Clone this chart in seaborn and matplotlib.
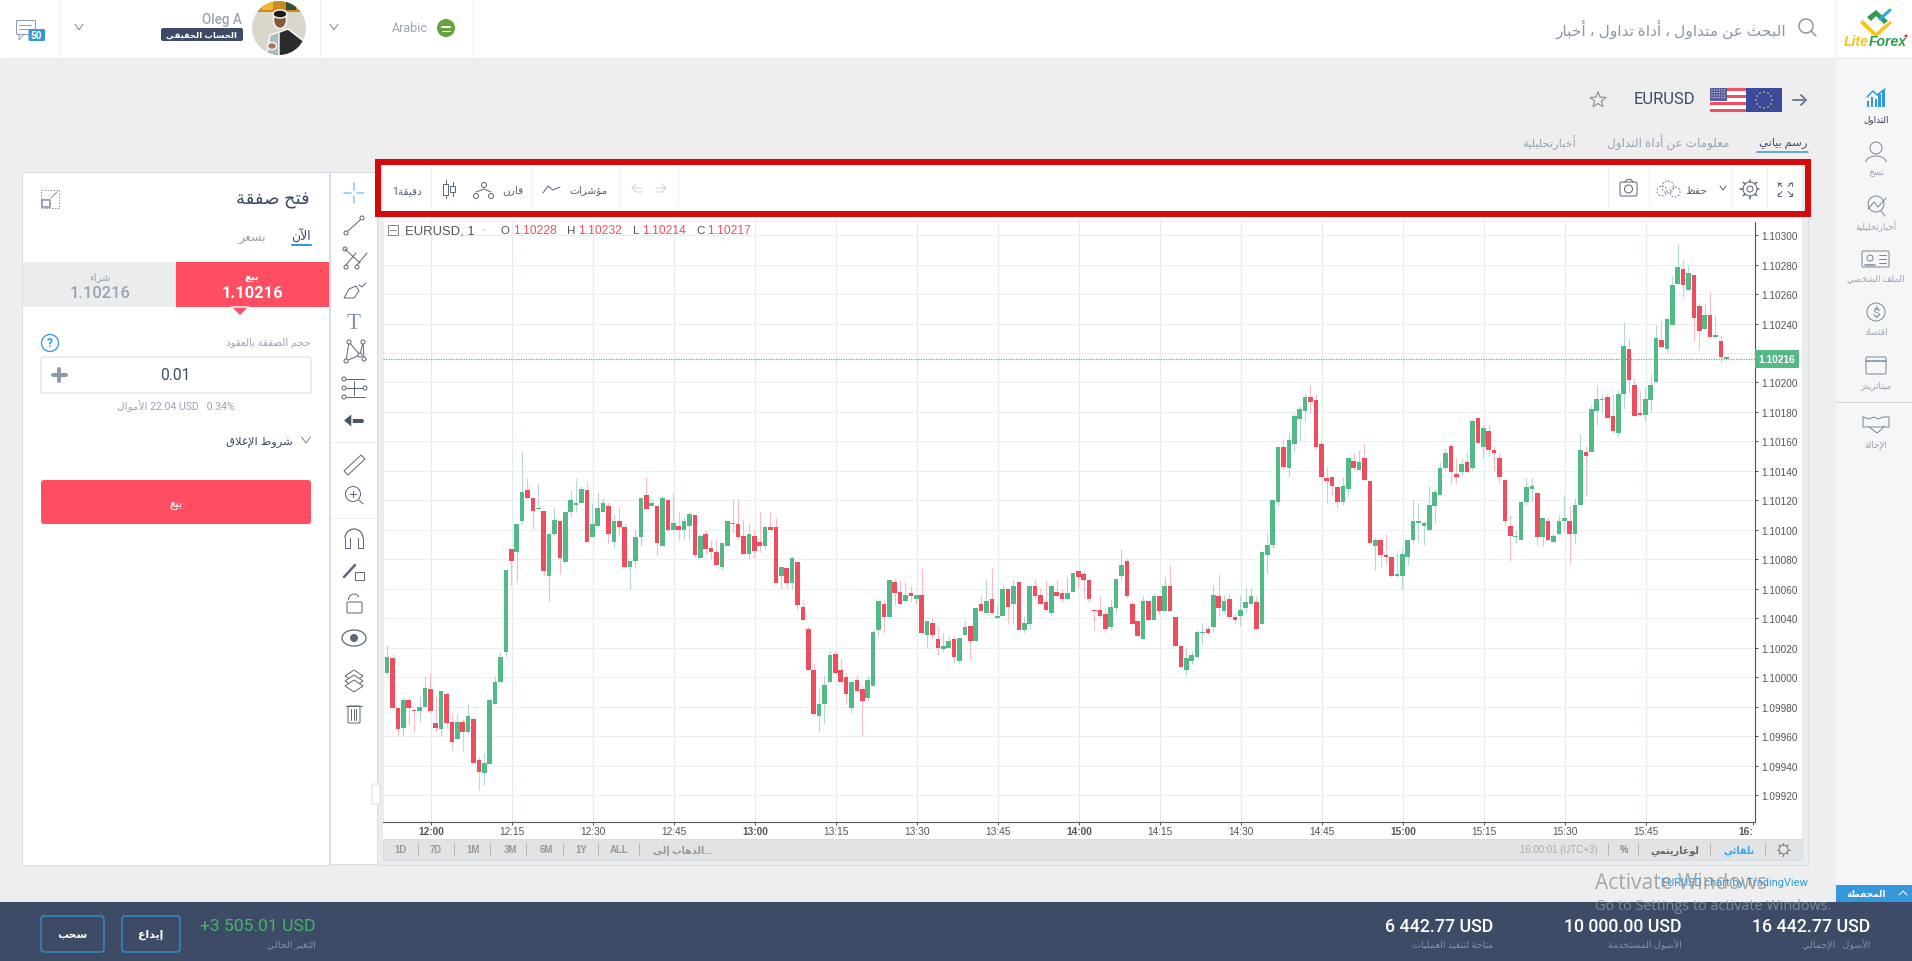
import re
import numpy as np
import pandas as pd
import seaborn as sns
from matplotlib import pyplot as plt
from matplotlib.patches import Rectangle, Circle, Ellipse, FancyBboxPatch, Polygon, Arc

# prices of the 1 minute candles, in 1e-5 above 1.0 (first candle is 11:52)
open_pts = [10003, 10013, 9979, 9966, 9985, 9978, 9977, 9980, 9992, 9969,
            9965, 9989, 9970, 9958, 9970, 9963, 9972, 9944, 9935, 9941,
            9982, 9997, 10017, 10087, 10085, 10106, 10127, 10122, 10114, 10113,
            10069, 10097, 10106, 10078, 10112, 10117, 10118, 10127, 10095, 10103,
            10112, 10116, 10092, 10106, 10102, 10075, 10079, 10095, 10124, 10116,
            10116, 10089, 10120, 10100, 10103, 10100, 10103, 10110, 10081, 10097,
            10088, 10085, 10075, 10089, 10104, 10104, 10096, 10084, 10096, 10092,
            10089, 10102, 10102, 10069, 10074, 10064, 10078, 10048, 10033, 10005,
            9974, 9982, 9997, 10016, 10005, 10000, 9979, 9998, 9992, 9986,
            9994, 10032, 10050, 10041, 10065, 10058, 10052, 10057, 10053, 10056,
            10029, 10037, 10026, 10019, 10020, 10026, 10011, 10029, 10035, 10025,
            10050, 10044, 10053, 10040, 10042, 10060, 10050, 10065, 10032, 10036,
            10062, 10056, 10051, 10044, 10058, 10057, 10053, 10058, 10072, 10070,
            10066, 10046, 10046, 10043, 10034, 10047, 10069, 10079, 10050, 10038,
            10026, 10052, 10039, 10055, 10045, 10062, 10041, 10021, 10005, 10011,
            10014, 10030, 10033, 10034, 10055, 10045, 10053, 10041, 10042, 10047,
            10050, 10051, 10036, 10083, 10090, 10119, 10156, 10142, 10158, 10175,
            10181, 10190, 10188, 10158, 10135, 10136, 10129, 10119, 10128, 10147,
            10141, 10149, 10133, 10089, 10093, 10083, 10082, 10069, 10069, 10082,
            10093, 10105, 10103, 10100, 10116, 10124, 10142, 10157, 10138, 10139,
            10146, 10142, 10176, 10156, 10167, 10154, 10149, 10134, 10103, 10095,
            10093, 10119, 10128, 10125, 10095, 10106, 10092, 10097, 10106, 10106,
            10097, 10117, 10153, 10153, 10181, 10188, 10190, 10177, 10166, 10192,
            10223, 10198, 10179, 10178, 10188, 10200, 10229, 10223, 10239, 10267,
            10277, 10263, 10273, 10252, 10236, 10246, 10231, 10228, 10216]
high_pts = [10022, 10016, 9979, 9986, 9987, 9978, 9988, 10001, 10003, 9988,
            9991, 9990, 9976, 9975, 9972, 9983, 9973, 9947, 9949, 9986,
            10001, 10017, 10073, 10087, 10104, 10153, 10135, 10122, 10132, 10113,
            10097, 10115, 10106, 10112, 10127, 10135, 10130, 10133, 10118, 10126,
            10122, 10119, 10111, 10116, 10105, 10079, 10100, 10122, 10136, 10121,
            10116, 10124, 10122, 10125, 10112, 10109, 10112, 10110, 10097, 10100,
            10093, 10093, 10091, 10106, 10121, 10121, 10107, 10104, 10101, 10112,
            10103, 10112, 10108, 10075, 10075, 10082, 10078, 10053, 10035, 10010,
            9993, 10002, 10018, 10018, 10013, 10003, 9997, 10002, 9994, 10001,
            10032, 10052, 10053, 10066, 10067, 10066, 10065, 10062, 10056, 10075,
            10038, 10040, 10035, 10030, 10028, 10028, 10027, 10038, 10035, 10047,
            10055, 10067, 10074, 10049, 10063, 10060, 10066, 10065, 10042, 10062,
            10067, 10061, 10066, 10062, 10066, 10060, 10068, 10071, 10072, 10072,
            10066, 10046, 10055, 10047, 10053, 10067, 10087, 10081, 10052, 10038,
            10055, 10052, 10057, 10055, 10068, 10076, 10041, 10021, 10020, 10018,
            10032, 10037, 10035, 10063, 10070, 10056, 10057, 10044, 10056, 10061,
            10061, 10055, 10085, 10098, 10120, 10156, 10162, 10166, 10179, 10184,
            10193, 10198, 10192, 10161, 10143, 10136, 10129, 10136, 10149, 10152,
            10154, 10159, 10133, 10095, 10094, 10097, 10082, 10085, 10087, 10093,
            10120, 10118, 10106, 10130, 10128, 10146, 10155, 10158, 10149, 10149,
            10152, 10175, 10176, 10171, 10171, 10157, 10152, 10134, 10110, 10100,
            10119, 10135, 10136, 10125, 10108, 10108, 10098, 10110, 10124, 10116,
            10122, 10165, 10157, 10185, 10198, 10192, 10192, 10192, 10195, 10241,
            10230, 10203, 10194, 10196, 10206, 10239, 10243, 10244, 10272, 10294,
            10283, 10280, 10273, 10254, 10253, 10262, 10246, 10232, 10217]
low_pts = [10002, 9978, 9960, 9960, 9968, 9963, 9970, 9980, 9976, 9964,
           9960, 9966, 9951, 9958, 9950, 9962, 9942, 9924, 9927, 9941,
           9982, 9997, 10014, 10063, 10065, 10104, 10121, 10101, 10114, 10069,
           10052, 10096, 10070, 10078, 10109, 10112, 10118, 10092, 10095, 10103,
           10112, 10091, 10088, 10096, 10075, 10060, 10074, 10089, 10114, 10116,
           10083, 10089, 10100, 10100, 10093, 10094, 10093, 10082, 10081, 10084,
           10080, 10076, 10073, 10089, 10098, 10094, 10084, 10080, 10081, 10086,
           10087, 10100, 10064, 10060, 10060, 10060, 10046, 10039, 10005, 9975,
           9963, 9969, 9997, 10003, 9997, 9982, 9976, 9991, 9961, 9984,
           9994, 10029, 10031, 10041, 10049, 10050, 10052, 10051, 10050, 10030,
           10020, 10026, 10015, 10017, 10020, 10010, 10009, 10029, 10012, 10025,
           10045, 10044, 10044, 10040, 10042, 10037, 10036, 10032, 10030, 10033,
           10054, 10050, 10045, 10042, 10055, 10051, 10053, 10058, 10061, 10054,
           10051, 10032, 10041, 10031, 10032, 10044, 10066, 10054, 10036, 10028,
           10026, 10039, 10039, 10043, 10045, 10045, 10021, 10007, 10002, 10009,
           10014, 10022, 10029, 10031, 10042, 10044, 10040, 10036, 10035, 10044,
           10050, 10033, 10036, 10071, 10088, 10116, 10142, 10136, 10153, 10161,
           10173, 10179, 10154, 10135, 10118, 10123, 10115, 10117, 10123, 10141,
           10141, 10134, 10091, 10073, 10075, 10077, 10068, 10068, 10060, 10076,
           10091, 10092, 10090, 10100, 10105, 10124, 10141, 10131, 10131, 10137,
           10139, 10141, 10159, 10149, 10150, 10140, 10132, 10103, 10079, 10091,
           10093, 10117, 10119, 10090, 10089, 10093, 10091, 10097, 10099, 10076,
           10091, 10117, 10123, 10153, 10171, 10179, 10176, 10166, 10163, 10182,
           10193, 10177, 10177, 10174, 10179, 10200, 10224, 10221, 10239, 10267,
           10257, 10263, 10228, 10222, 10236, 10231, 10230, 10214, 10216]
close_pts = [10014, 9979, 9965, 9985, 9979, 9977, 9980, 9993, 9977, 9966,
             9991, 9969, 9956, 9970, 9963, 9974, 9942, 9936, 9942, 9985,
             9997, 10014, 10073, 10079, 10104, 10126, 10122, 10113, 10115, 10072,
             10097, 10107, 10081, 10112, 10120, 10118, 10128, 10092, 10104, 10115,
             10118, 10097, 10106, 10102, 10075, 10079, 10095, 10122, 10114, 10118,
             10091, 10122, 10100, 10105, 10100, 10106, 10111, 10083, 10096, 10087,
             10085, 10076, 10091, 10106, 10105, 10095, 10084, 10097, 10086, 10089,
             10102, 10100, 10064, 10075, 10064, 10081, 10049, 10039, 10005, 9975,
             9982, 9995, 10015, 10003, 9997, 9989, 9997, 9991, 9984, 9998,
             10031, 10052, 10041, 10066, 10057, 10050, 10056, 10055, 10056, 10030,
             10038, 10029, 10020, 10021, 10025, 10014, 10027, 10034, 10025, 10047,
             10045, 10052, 10044, 10042, 10060, 10048, 10062, 10032, 10037, 10062,
             10055, 10050, 10046, 10062, 10055, 10053, 10057, 10071, 10068, 10066,
             10053, 10045, 10042, 10033, 10048, 10067, 10076, 10055, 10036, 10028,
             10052, 10039, 10055, 10045, 10062, 10045, 10021, 10007, 10013, 10015,
             10031, 10031, 10030, 10056, 10047, 10052, 10041, 10039, 10046, 10051,
             10055, 10033, 10085, 10090, 10120, 10156, 10143, 10161, 10177, 10182,
             10190, 10187, 10156, 10136, 10133, 10130, 10119, 10130, 10149, 10142,
             10146, 10134, 10091, 10093, 10083, 10082, 10069, 10070, 10084, 10093,
             10106, 10106, 10105, 10117, 10126, 10142, 10152, 10139, 10136, 10145,
             10139, 10174, 10159, 10169, 10154, 10152, 10136, 10106, 10096, 10096,
             10119, 10129, 10130, 10095, 10108, 10093, 10096, 10106, 10108, 10097,
             10117, 10154, 10150, 10182, 10189, 10189, 10176, 10167, 10192, 10225,
             10202, 10177, 10178, 10189, 10198, 10230, 10224, 10243, 10266, 10278,
             10266, 10274, 10244, 10235, 10246, 10231, 10232, 10217, 10216]

time_labels = ['12:00', '12:15', '12:30', '12:45', '13:00', '13:15', '13:30', '13:45', '14:00',
               '14:15', '14:30', '14:45', '15:00', '15:15', '15:30', '15:45']
price_ticks = [1.09920 + 0.0002 * k for k in range(20)]
last_price = 1.10216

range_labels = ['1D', '7D', '1M', '3M', '6M', '1Y', 'ALL']
legend_values = ['1.10228', '1.10232', '1.10214', '1.10217']
tabs = ['رسم بياني', 'معلومات عن أداة التداول', 'أخبارتحليلية']
nav_labels = ['التداول', 'نسخ', 'أخبارتحليلية', 'الملف الشخصي', 'اقتصاد', 'ميتاتريدر', 'الإحالة']
balances = ['16 442.77 USD', '10 000.00 USD', '6 442.77 USD']
balance_labels = ['الأصول . الإجمالي', 'الأصول المستخدمة', 'متاحة لتنفيذ العمليات']

GREEN = '#53b987'
RED = '#ee4d5f'
NAVY = '#3d4b67'
GREY = '#9aa3b2'
ICON = '#7d8798'
TOOL = '#5f6875'
BLUE = '#3498db'


# matplotlib does no arabic shaping, so map to presentation forms and flip
_forms = {}
_code = 0xFE8D
for _ch, _n in [('ا', 2), ('ب', 4), ('ة', 2), ('ت', 4), ('ث', 4), ('ج', 4), ('ح', 4), ('خ', 4), ('د', 2),
                ('ذ', 2), ('ر', 2), ('ز', 2), ('س', 4), ('ش', 4), ('ص', 4), ('ض', 4), ('ط', 4), ('ظ', 4),
                ('ع', 4), ('غ', 4), ('ف', 4), ('ق', 4), ('ك', 4), ('ل', 4), ('م', 4), ('ن', 4), ('ه', 4),
                ('و', 2), ('ى', 2), ('ي', 4)]:
    _forms[_ch] = [chr(_code + k) for k in range(_n)]
    _code += _n
_forms['آ'] = ['\uFE81', '\uFE82']
_forms['أ'] = ['\uFE83', '\uFE84']
_forms['ؤ'] = ['\uFE85', '\uFE86']
_forms['إ'] = ['\uFE87', '\uFE88']
_forms['ئ'] = ['\uFE89', '\uFE8A', '\uFE8B', '\uFE8C']
_forms['ء'] = ['\uFE80']
_lam_alef = {'ا': ('\uFEFB', '\uFEFC'), 'أ': ('\uFEF7', '\uFEF8'), 'إ': ('\uFEF9', '\uFEFA'), 'آ': ('\uFEF5', '\uFEF6')}


def ar(text):
    out = []
    i = 0
    while i < len(text):
        ch = text[i]
        if ch not in _forms:
            out.append(ch)
            i += 1
            continue
        prev = text[i - 1] if i > 0 else ' '
        joins_prev = prev in _forms and len(_forms[prev]) == 4
        nxt = text[i + 1] if i + 1 < len(text) else ' '
        if ch == 'ل' and nxt in _lam_alef:
            out.append(_lam_alef[nxt][1 if joins_prev else 0])
            i += 2
            continue
        joins_next = len(_forms[ch]) == 4 and nxt in _forms
        if joins_prev and joins_next:
            form = 3
        elif joins_next:
            form = 2
        elif joins_prev:
            form = 1
        else:
            form = 0
        out.append(_forms[ch][form])
        i += 1
    flipped = ''.join(out)[::-1]
    return re.sub(r'[0-9A-Za-z][0-9A-Za-z. ]*[0-9A-Za-z]|[0-9A-Za-z]', lambda m: m.group(0)[::-1], flipped)


sns.set_theme(style='white')
plt.rcParams['font.family'] = ['Roboto', 'DejaVu Sans']

fig = plt.figure(figsize=(19.12, 9.62), dpi=100, facecolor='#eeeeee')
ui = fig.add_axes([0, 0, 1, 1], zorder=0)
ov = fig.add_axes([0, 0, 1, 1], zorder=5)
for a in (ui, ov):
    a.set_xlim(0, 1912)
    a.set_ylim(962, 0)
    a.axis('off')
ov.patch.set_visible(False)


def box(x0, y0, x1, y1, fc='none', ec='none', lw=1.0, r=0, a=ui, z=None):
    if z is None:
        z = 3 if fc == 'none' else 1
    if r:
        p = FancyBboxPatch((x0, y0), x1 - x0, y1 - y0, boxstyle='round,pad=0,rounding_size=%s' % r,
                           fc=fc, ec=ec, lw=lw * 0.72, zorder=z)
    else:
        p = Rectangle((x0, y0), x1 - x0, y1 - y0, fc=fc, ec=ec, lw=lw * 0.72, zorder=z)
    a.add_patch(p)
    return p


def line(xs, ys, c=ICON, lw=1.0, a=ui, z=3):
    a.plot(xs, ys, color=c, lw=lw * 0.72, solid_capstyle='round', zorder=z)


def circ(x, y, r, fc='none', ec=ICON, lw=1.0, a=ui, z=3):
    p = Circle((x, y), r, fc=fc, ec=ec, lw=lw * 0.72, zorder=z)
    a.add_patch(p)
    return p


def txt(x, y, s, px, c=GREY, ha='center', w='normal', a=ui, family=None, alpha=None, style='normal'):
    a.text(x, y, s, fontsize=px * 0.72, color=c, ha=ha, va='center', fontweight=w, zorder=6,
           family=family or ['Roboto', 'DejaVu Sans'], alpha=alpha, fontstyle=style)


def chevron(x, y, c=ICON, s=4):
    line([x - s, x, x + s], [y - s * 0.7, y + s * 0.7, y - s * 0.7], c)


LIB = ['Liberation Sans', 'DejaVu Sans']

# page blocks
box(0, 0, 1912, 59, fc='white')
box(1836, 59, 1912, 903, fc='#f5f6f7')
line([0, 1912], [59, 59], '#e6e8eb')
for x in (59, 320, 473, 1836):
    line([x, x], [0, 59], '#eceef0')
box(0, 903, 1912, 962, fc=NAVY, z=2)
box(1836, 886, 1912, 903, fc=BLUE, z=2)
txt(1866, 894.5, ar('المحفظة'), 9, 'white', w='bold')
line([1899, 1903, 1907], [896, 892, 896], 'white')

# header left
box(16, 21, 35, 35, fc='white', ec='#8fa0b5', z=3)
line([19, 19, 24], [35, 41, 35], '#8fa0b5')
line([19, 31], [26, 26], '#8fa0b5')
line([19, 31], [30, 30], '#8fa0b5')
box(28.5, 30, 45, 42, fc=BLUE, r=1.5, z=4)
txt(36.5, 36, '50', 10, 'white', w='bold')
chevron(79, 28)
txt(242, 20, 'Oleg A', 13.5, GREY, ha='right', w='medium')
box(161, 29, 243, 42, fc=NAVY, r=2)
txt(202, 35.5, ar('الحساب الحقيقي'), 8.5, 'white', w='bold')
avatar = circ(279, 29, 27, fc='#d9d6cb', ec='none')
for x0, y0, x1, y1, col in [(250, 0, 310, 13, '#c98a22'), (262, 2, 273, 11, '#f2b632'), (286, 2, 296, 11, '#33503c')]:
    box(x0, y0, x1, y1, fc=col, z=3).set_clip_path(avatar)
suit = Polygon([[274, 56], [277, 34], [288, 30], [306, 44], [306, 60], [274, 60]], fc='#2b2b2d', zorder=3)
ui.add_patch(suit)
suit.set_clip_path(avatar)
shirt = Polygon([[266, 58], [270, 36], [279, 33], [279, 58]], fc='#a9bcc2', zorder=3)
ui.add_patch(shirt)
shirt.set_clip_path(avatar)
ui.add_patch(Ellipse((280, 21), 13, 17, fc='#8a5a3c', zorder=4))
ui.add_patch(Ellipse((280, 15), 14, 8, fc='#1e1a18', zorder=4))
ui.add_patch(Ellipse((272, 47), 9, 7, fc='#a8745a', zorder=4))
chevron(334, 28)
txt(428, 29, 'Arabic', 12.5, GREY, ha='right')
circ(446, 29, 9, fc='#64a33e', ec='none')
line([442, 450], [28, 28], 'white', 2)
line([442, 450], [32, 32], 'white', 1)

# search and logo
txt(1786, 29, ar('البحث عن متداول ، أداة تداول ، أخبار'), 15.4, '#8f96a3', ha='right')
circ(1806, 27, 7, ec='#8f96a3', lw=1.5)
line([1811, 1816], [32, 37], '#8f96a3', 1.5)
ui.add_patch(Polygon([[1863, 20], [1876, 33], [1889, 20], [1893, 24], [1876, 40], [1859, 24]], fc='#f5c518', zorder=3))
ui.add_patch(Polygon([[1866, 18], [1876, 10], [1889, 22], [1884, 26], [1876, 18], [1871, 23]], fc='#2e9e4f', zorder=3))
line([1880, 1890], [20, 11], '#29a9e0', 3)
txt(1844, 42, 'Lite', 14, '#f5c518', ha='left', w='bold', family=LIB, style='italic')
txt(1869, 42, 'Forex', 14, '#2e9e4f', ha='left', w='bold', family=LIB, style='italic')
circ(1906, 37, 1.5, fc='#e0262b', ec='none')

# instrument row
txt(1695, 100, 'EURUSD', 16.5, NAVY, ha='right')
for k in range(7):
    box(1710, 89 + k * 24 / 7, 1746, 89 + (k + 1) * 24 / 7, fc='#f0505f' if k % 2 == 0 else 'white', z=2)
box(1710, 89, 1727, 102, fc='#5a5f9c', z=3)
for px_ in np.arange(1712, 1727, 2.5):
    for py_ in np.arange(91, 101, 2.5):
        circ(px_, py_, 0.5, fc='white', ec='none', z=4)
box(1746, 89, 1782, 113, fc='#3d4a9c', z=2)
for ang in np.arange(0, 360, 30):
    circ(1764 + 8 * np.cos(np.radians(ang)), 101 + 8 * np.sin(np.radians(ang)), 0.8, fc='#f0d040', ec='none')
line([1793, 1806], [101, 101], '#6d8296', 2)
line([1801, 1806, 1801], [96, 101, 106], '#6d8296', 2)
star = [[1598 + (8.5 if k % 2 == 0 else 3.5) * np.sin(k * np.pi / 5), 101 - (8.5 if k % 2 == 0 else 3.5) * np.cos(k * np.pi / 5)]
        for k in range(10)]
ui.add_patch(Polygon(star, fc='none', ec='#8e98a8', lw=0.9, zorder=3))
txt(1808, 143, ar(tabs[0]), 11.5, NAVY, ha='right')
line([1757, 1808], [153, 153], '#3f8fc4', 1.5)
txt(1729, 143, ar(tabs[1]), 12, GREY, ha='right')
txt(1576, 143, ar(tabs[2]), 11.5, GREY, ha='right')

# toolbar strip and chart frame
box(377, 172, 1808, 866, fc='#e9edf0', ec='#d8dce3', z=1)
box(383, 166, 1802, 207, fc='white', z=2)
for x in (431, 532, 620, 678, 1608, 1649, 1732, 1767, 1802):
    line([x, x], [168, 207], '#eceef0', 1)
txt(407, 191, ar('دقيقة1'), 10.5, '#555f6e')
line([446, 446], [181, 199], TOOL)
box(443.5, 185, 448.5, 196, ec=TOOL, fc='white', z=4)
line([453, 453], [183, 197], TOOL)
box(450.5, 187, 455.5, 193, ec=TOOL, fc='white', z=4)
for cx, cy in [(476, 197), (484, 186), (491, 197)]:
    circ(cx, cy, 2.5, ec=TOOL)
line([476, 484, 491], [193, 190, 193], TOOL)
txt(513, 190, ar('قارن'), 10.5, '#555f6e')
line([543, 548, 553, 560], [194, 187, 191, 188], TOOL)
txt(589, 190, ar('مؤشرات'), 10.5, '#555f6e')
line([642, 632, 636], [189, 189, 185], '#d0d4da')
line([632, 636, 642], [189, 193, 193], '#d0d4da')
line([656, 666, 662], [189, 189, 185], '#d0d4da')
line([666, 662, 656], [189, 193, 193], '#d0d4da')
box(1620, 183, 1637, 197, ec=TOOL, r=2)
circ(1628.5, 190, 4, ec=TOOL)
line([1625, 1627, 1631, 1633], [183, 180.5, 180.5, 183], TOOL)
for cx, cy, rr in [(1662, 192, 5), (1668, 188, 6), (1675, 193, 5)]:
    p_ = circ(cx, cy, rr, ec='#7d8798')
    p_.set_linestyle((0, (2, 1.5)))
txt(1696, 191, ar('حفظ'), 10.5, '#555f6e')
chevron(1723, 189, TOOL, 3)
circ(1750, 190, 7, ec=TOOL)
circ(1750, 190, 3, ec=TOOL)
for ang in np.arange(0, 360, 45):
    ca, sa = np.cos(np.radians(ang)), np.sin(np.radians(ang))
    line([1750 + 7 * ca, 1750 + 9.5 * ca], [190 + 7 * sa, 190 + 9.5 * sa], TOOL, 1.5)
for dx, dy in [(-1, -1), (1, -1), (-1, 1), (1, 1)]:
    cx, cy = 1785 + dx * 3, 190 + dy * 2.5
    line([cx, cx + dx * 4], [cy, cy + dy * 4], TOOL)
    line([cx + dx * 4, cx + dx * 1], [cy + dy * 4, cy + dy * 4], TOOL)
    line([cx + dx * 4, cx + dx * 4], [cy + dy * 4, cy + dy * 1], TOOL)

# red highlight
box(378.5, 163, 1808, 215, ec='#d60a0a', lw=6, a=ov)

# order panel
box(22.5, 172.5, 329.5, 866, fc='white', ec='#d8dce3', z=2)
txt(310, 200, ar('فتح صفقة'), 18, NAVY, ha='right')
p_ = box(41, 191, 59, 209, ec='#8b94a3')
p_.set_linestyle((0, (1.5, 1.5)))
box(42, 201, 50, 208, ec='#8b94a3', lw=1.6)
line([51, 57], [199, 193], '#8b94a3')
txt(311, 236, ar('الآن'), 12.5, NAVY, ha='right')
line([292, 311], [246, 246], BLUE, 2)
txt(252, 237, ar('بسعر'), 12.5, GREY)
box(23, 263, 176, 308, fc='#ebecee', z=3)
box(176, 263, 329, 308, fc='#ff4d61', z=3)
ui.add_patch(Polygon([[231, 308], [249, 308], [240, 317]], fc='#ff4d61', zorder=3))
txt(100, 277, ar('شراء'), 10, GREY)
txt(100, 294, '1.10216', 16.5, GREY, w='medium')
txt(252, 277, ar('بيع'), 10, 'white', w='bold')
txt(252, 294, '1.10216', 16.5, 'white', w='bold')
txt(311, 343, ar('حجم الصفقة بالعقود'), 10.3, GREY, ha='right')
circ(50, 344, 8.5, ec=BLUE, lw=1.3)
txt(50, 344, '?', 12, BLUE, w='bold')
box(41, 358, 311, 394, fc='white', ec='#d8dce3', r=2, z=3)
line([53, 66], [376, 376], '#8e9aab', 4)
line([59.5, 59.5], [370, 382], '#8e9aab', 4)
txt(175, 375.5, '0.01', 15.5, NAVY)
txt(176, 406, ar('الأموال') + ' 22.04 USD   0.34%', 10.5, GREY)
chevron(306, 441, ICON, 4.5)
txt(293, 442, ar('شروط الإغلاق'), 11.5, NAVY, ha='right')
box(41, 481, 311, 525, fc='#ff4d61', r=3, z=3)
txt(176, 505, ar('بيع'), 12, 'white')

# drawing tools
box(330, 173, 377, 865, fc='white', ec='#d8dce3', z=2)
X = 354
line([X - 10, X - 3], [194, 194], '#82c6f0', 1.5)
line([X + 3, X + 10], [194, 194], '#82c6f0', 1.5)
line([X, X], [184, 191], '#82c6f0', 1.5)
line([X, X], [197, 204], '#82c6f0', 1.5)
line([X - 6, X + 6], [232, 221], TOOL)
circ(X - 8, 234, 2, ec=TOOL)
circ(X + 8, 219, 2, ec=TOOL)
for dx_ in (-8, 3):
    line([X + dx_, X + dx_ + 10], [266, 254], TOOL)
line([X - 9, X + 6], [250, 264], TOOL)
circ(X - 9, 250, 2, ec=TOOL)
circ(X - 8, 268, 2, ec=TOOL)
circ(X + 3, 268, 2, ec=TOOL)
ui.add_patch(Polygon([[X - 10, 299], [X - 5, 290], [X + 2, 287], [X + 5, 292], [X, 299]], fc='none', ec=TOOL, lw=0.72, zorder=3))
line([X + 5, X + 8, X + 12], [286, 288, 284], TOOL)
txt(X, 324, 'T', 23, '#8a93a0', family=['Liberation Serif'])
for a_, b_ in [((-8, 362), (-5, 343)), ((-5, 343), (6, 356)), ((6, 356), (9, 343)), ((9, 343), (10, 360)), ((-8, 362), (6, 356))]:
    line([X + a_[0], X + b_[0]], [a_[1], b_[1]], TOOL)
for cx, cy in [(-8, 362), (-5, 343), (6, 356), (9, 343), (10, 360)]:
    circ(X + cx, cy, 2, fc='white', ec=TOOL, z=4)
for y_ in (380, 389, 398):
    line([X - 8, X + 11], [y_, y_], TOOL)
    circ(X - 10, y_, 2, fc='white', ec=TOOL, z=4)
line([X, X], [382, 396], TOOL)
circ(X + 11, 389, 2, fc='white', ec=TOOL, z=4)
line([X - 6, X + 8], [421.5, 421.5], '#4a5568', 4)
ui.add_patch(Polygon([[X - 11, 421.5], [X - 2, 414], [X - 2, 429]], fc='#4a5568', zorder=3))
line([331, 376], [443, 443], '#eceef0')
line([331, 376], [519, 519], '#eceef0')
ui.add_patch(Polygon([[X - 10, 472], [X + 7, 456], [X + 11, 460], [X - 6, 476]], fc='none', ec=TOOL, lw=0.72, zorder=3))
circ(X - 1, 495, 7.5, ec=TOOL)
line([X - 4, X + 2], [495, 495], TOOL)
line([X - 1, X - 1], [492, 498], TOOL)
line([X + 5, X + 9], [501, 505], TOOL)
ui.add_patch(Arc((X, 539), 18, 18, theta1=180, theta2=360, ec=TOOL, lw=0.9, zorder=3))
line([X - 9, X - 9, X - 4, X - 4], [539, 549, 549, 539], TOOL)
line([X + 9, X + 9, X + 4, X + 4], [539, 549, 549, 539], TOOL)
line([X - 10, X + 1], [578, 566], TOOL, 2.5)
box(X + 1, 573, X + 10, 581, ec=TOOL)
box(X - 7, 603, X + 8, 614, ec=TOOL, r=1)
ui.add_patch(Arc((X, 601), 11, 12, theta1=180, theta2=330, ec=TOOL, lw=0.72, zorder=3))
ui.add_patch(Arc((X, 639), 24, 16, theta1=0, theta2=360, ec=TOOL, lw=0.9, zorder=3))
circ(X, 639, 3.5, fc=TOOL, ec=TOOL)
for y_ in (677, 682, 687):
    ui.add_patch(Polygon([[X - 9, y_], [X, y_ - 6], [X + 9, y_], [X, y_ + 6]], fc='white', ec=TOOL, lw=0.72, zorder=3))
box(X - 6, 707, X + 6, 724, ec=TOOL, r=1)
line([X - 8, X + 8], [707, 707], TOOL)
for dx_ in (-2.5, 0, 2.5):
    line([X + dx_, X + dx_], [710, 721], TOOL)
box(372, 785, 380, 805, fc='white', ec='#d8dce3', r=1, z=3)

# side navigation
nav_y = [120, 173, 226, 279, 333, 386, 445]
NX = 1876
for lab, y_, col in zip(nav_labels, nav_y, ['#333a47'] + [GREY] * 6):
    txt(NX, y_, ar(lab), 8.8, col)
for k, bh in enumerate([6, 10, 8, 13, 17]):
    box(NX - 9 + k * 3.8, 108 - bh, NX - 6.5 + k * 3.8, 108, fc=BLUE, z=3)
line([NX - 9, NX - 3, NX + 1, NX + 9], [98, 92, 96, 90], BLUE, 1.5)
circ(NX, 149, 6)
ui.add_patch(Arc((NX, 163), 20, 12, theta1=180, theta2=360, ec=ICON, lw=0.72, zorder=3))
circ(NX, 205, 8)
line([NX - 8, NX - 2, NX + 2, NX + 10], [210, 203, 208, 199], ICON)
line([NX + 5, NX + 9], [212, 217], ICON)
box(NX - 14, 252, NX + 13, 268, ec=ICON, r=1)
circ(NX - 6, 259, 3)
line([NX - 11, NX - 1], [266, 266], ICON, 1.5)
for y_ in (256, 260, 264):
    line([NX + 3, NX + 10], [y_, y_], ICON)
circ(NX, 313, 9)
txt(NX, 313, '$', 13, ICON)
box(NX - 10, 358, NX + 10, 375, ec=ICON, r=1)
line([NX - 10, NX + 10], [362, 362], ICON, 1.5)
line([1836, 1912], [403, 403], '#cfd2d6')
line([NX - 13, NX - 7, NX - 2, NX + 2, NX + 7, NX + 13, NX + 13, NX - 13, NX - 13], [418, 420, 418, 420, 418, 418, 428, 428, 418], ICON)
line([NX - 7, NX + 1, NX + 5, NX + 8], [428, 434, 431, 427], ICON)

# chart
pts = pd.DataFrame({'open': open_pts, 'high': high_pts, 'low': low_pts, 'close': close_pts})
candles = 1 + pts * 1e-5
candles['minute'] = np.arange(len(candles)) - 8
candles['bottom'] = candles[['open', 'close']].min(axis=1)
candles['size'] = (candles['close'] - candles['open']).abs().clip(lower=1e-5)
up = candles[candles['close'] >= candles['open']]
down = candles[candles['close'] < candles['open']]

ax = fig.add_axes([383 / 1912, 1 - 823.3 / 962, (1755.4 - 383) / 1912, (823.3 - 222) / 962], zorder=1)
ax.set_facecolor('white')
ax.vlines(up['minute'], up['low'], up['high'], color='#b5d7d8', lw=0.8, zorder=2)
ax.vlines(down['minute'], down['low'], down['high'], color='#f9bdc6', lw=0.8, zorder=2)
sns.barplot(data=up, x='minute', y='size', bottom=up['bottom'].values, native_scale=True, color=GREEN,
            width=0.85, errorbar=None, saturation=1, linewidth=0, zorder=3, ax=ax)
sns.barplot(data=down, x='minute', y='size', bottom=down['bottom'].values, native_scale=True, color=RED,
            width=0.85, errorbar=None, saturation=1, linewidth=0, zorder=3, ax=ax)
ax.set_xlabel('')
ax.set_ylabel('')

# candles sit 1px left of the time grid in the reference
grid_shift = 0.2
ax.set_xlim(-8.76, 245.4)
ax.set_ylim(1.099018, 1.103095)
time_ticks = [m * 15 + grid_shift for m in range(len(time_labels))]
ax.set_xticks(time_ticks + [245.0])
ax.set_xticklabels(time_labels + ['16:'])
ax.yaxis.tick_right()
ax.set_yticks(price_ticks)
ax.set_yticklabels(['%.5f' % p for p in price_ticks])
ax.tick_params(axis='x', length=2.2, width=0.72, color='#555555', labelsize=7.3, labelcolor='#555555', pad=0.5, bottom=True)
ax.tick_params(axis='y', length=2.2, width=0.72, color='#555555', labelsize=7.2, labelcolor='#555555', pad=2, right=True)
for lab in ax.get_xticklabels() + ax.get_yticklabels():
    lab.set_family(LIB)
for lab in ax.get_xticklabels():
    if lab.get_text().endswith(':00') or lab.get_text() == '16:':
        lab.set_fontweight('bold')
ax.get_xticklabels()[-1].set_ha('right')
ax.set_axisbelow(True)
ax.grid(True, axis='y', color='#e9eff3', lw=0.8)
for m in time_ticks:
    ax.axvline(m, color='#e3ebf1', lw=0.75, zorder=0.5)
for side, col in [('left', '#e9edf0'), ('top', '#e9eff3'), ('right', '#555555'), ('bottom', '#555555')]:
    ax.spines[side].set_visible(True)
    ax.spines[side].set_color(col)
    ax.spines[side].set_linewidth(0.8)
ax.axhline(last_price, color=GREEN, lw=0.9, ls=(0, (1, 1)), zorder=4)
ax.text(1.0025, last_price, '%.5f' % last_price, transform=ax.get_yaxis_transform(), color='white', fontsize=7.4,
        fontweight='bold', family=LIB, ha='left', va='center', zorder=8, clip_on=False,
        bbox=dict(boxstyle='square,pad=0.38', fc=GREEN, ec='none'))

# white strip behind the price scale, bottom bar
box(1755, 207, 1802, 840, fc='white', z=2)
box(383, 207, 1755, 222, fc='white', z=2)
box(383, 823, 1755, 840, fc='white', z=2)
box(383, 840, 1802, 861, fc='#e2e3e5', ec='#d8dce3', z=3)
range_x = [401, 436, 473, 510, 546, 581.5, 619]
for x, lab in zip(range_x, range_labels):
    txt(x, 850.5, lab, 9.6, '#999999', w='bold', family=LIB)
for x in (418, 454, 490.5, 526.5, 563, 598.5, 639.5, 1608, 1638, 1710.5, 1765):
    line([x, x], [844, 856], '#b5b7ba')
txt(683, 850.5, ar('الذهاب إلى') + '...', 9.6, '#999999', w='bold')
txt(1597.5, 850.5, '16:00:01 (UTC+3)', 9.6, '#aaaaaa', ha='right', family=LIB)
txt(1624, 850.5, '%', 9.6, '#888888', w='bold', family=LIB)
txt(1675, 850.5, ar('لوغاريتمي'), 9.6, '#666666', w='bold')
txt(1739, 850.5, ar('تلقائي'), 9.6, '#37a6ef', w='bold')
circ(1783.5, 850.5, 4.5, ec='#888888', lw=1.2)
for ang in np.arange(0, 360, 45):
    ca, sa = np.cos(np.radians(ang)), np.sin(np.radians(ang))
    line([1783.5 + 4.5 * ca, 1783.5 + 6.5 * ca], [850.5 + 4.5 * sa, 850.5 + 6.5 * sa], '#888888', 1.2)

# chart legend
box(388, 226, 398, 236, ec='#888888', a=ov)
line([390, 396], [231, 231], '#888888', a=ov)
txt(405, 231, 'EURUSD, 1', 13, '#555555', ha='left', a=ov, family=LIB)
ov.add_patch(Polygon([[480.5, 229.5], [487, 229.5], [483.7, 233]], fc='#c4c7cc', zorder=6))
for letter, lx, vx, val in zip('OHLC', [500.5, 567, 633, 696.5], [512.7, 578, 641.7, 707], legend_values):
    txt(lx, 231.5, letter, 11.5, '#555555', ha='left', a=ov, family=LIB)
    txt(vx, 231.5, val, 12, '#ef5060', ha='left', a=ov, family=LIB)

# footer
for x, val, lab in zip([1870.5, 1681.5, 1493], balances, balance_labels):
    txt(x, 927, val, 17.8, 'white', ha='right', w='medium')
    txt(x, 945, ar(lab), 9.5, '#8591a5', ha='right')
txt(316, 927, '+3 505.01 USD', 17.5, '#3fb866', ha='right')
txt(316, 945, ar('التغير الحالي'), 9.5, '#8591a5', ha='right')
box(122, 917, 180, 953, ec=BLUE, r=3, lw=1.2)
txt(151, 935, ar('إيداع'), 11, 'white', w='bold')
box(41, 917, 104, 953, ec=BLUE, r=3, lw=1.2)
txt(72.5, 935, ar('سحب'), 11, 'white', w='bold')
txt(1808, 883, 'EURUSD chart by TradingView', 11, BLUE, ha='right')
txt(1595.5, 884, 'Activate Windows', 21, '#8a8a8a', ha='left', a=ov, family=['Open Sans'], alpha=0.7)
txt(1595.5, 907, 'Go to Settings to activate Windows.', 14.4, '#8f97a3', ha='left', a=ov, family=['Open Sans'], alpha=0.8)

fig.savefig('out.png', dpi=100, facecolor=fig.get_facecolor())
